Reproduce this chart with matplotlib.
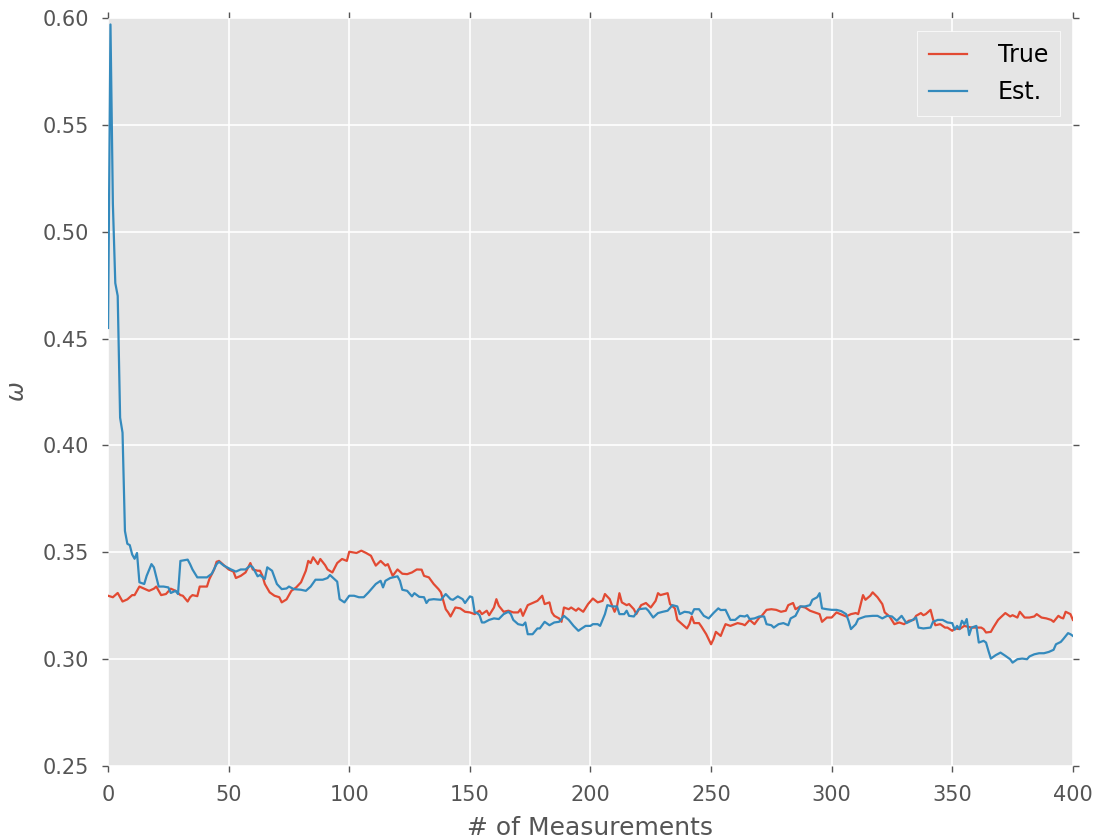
import matplotlib
matplotlib.use("Agg")
import matplotlib.pyplot as plt

true_x = [0, 2, 4, 6, 8, 10, 11, 13, 15, 17, 19, 20, 22, 24, 26, 28, 30, 31, 33, 34, 35, 37, 38,
          41, 42, 44, 45, 46, 48, 50, 52, 53, 55, 57, 59, 60, 62, 63, 64, 65, 67, 69, 71, 72, 74,
          76, 78, 80, 82, 83, 84, 85, 87, 88, 90, 91, 93, 95, 97, 99, 100, 103, 105, 107, 109, 110,
          111, 113, 115, 116, 118, 120, 122, 124, 126, 128, 130, 131, 133, 135, 137, 138, 140, 141,
          142, 144, 146, 148, 150, 152, 154, 155, 157, 158, 160, 161, 162, 164, 166, 168, 170, 171,
          172, 174, 176, 178, 180, 181, 183, 184, 185, 187, 188, 189, 191, 192, 194, 195, 197, 199,
          201, 203, 205, 206, 208, 209, 210, 211, 212, 213, 215, 216, 218, 219, 221, 223, 225, 227,
          228, 229, 232, 233, 235, 236, 238, 240, 241, 242, 243, 245, 246, 248, 250, 251, 252, 254,
          255, 256, 258, 261, 263, 264, 266, 268, 270, 271, 273, 275, 277, 279, 281, 282, 284, 285,
          287, 289, 291, 293, 295, 296, 298, 300, 302, 303, 306, 308, 310, 311, 313, 314, 316, 317,
          319, 321, 322, 324, 326, 328, 330, 332, 334, 335, 337, 338, 339, 341, 342, 343, 345, 347,
          348, 350, 351, 353, 355, 356, 358, 360, 362, 363, 364, 366, 367, 369, 370, 372, 374, 375,
          377, 378, 380, 382, 384, 385, 387, 389, 391, 392, 394, 395, 396, 397, 399, 400]
true_y = [0.3297, 0.329, 0.331, 0.327, 0.328, 0.330, 0.330, 0.334, 0.333, 0.332, 0.333, 0.334,
          0.330, 0.3305, 0.333, 0.332, 0.330, 0.3297, 0.327, 0.329, 0.330, 0.3295, 0.334, 0.334,
          0.3375, 0.342, 0.3456, 0.346, 0.344, 0.342, 0.341, 0.338, 0.339, 0.3406, 0.345, 0.342,
          0.3414, 0.3414, 0.339, 0.3352, 0.3313, 0.3297, 0.329, 0.3266, 0.328, 0.332, 0.3336, 0.336,
          0.3414, 0.346, 0.345, 0.3477, 0.3445, 0.3469, 0.344, 0.342, 0.3406, 0.345, 0.3469, 0.346,
          0.3503, 0.3497, 0.3508, 0.3497, 0.3484, 0.346, 0.3438, 0.346, 0.3438, 0.3445, 0.339, 0.342,
          0.340, 0.3398, 0.3406, 0.342, 0.3419, 0.339, 0.3383, 0.3352, 0.3328, 0.3313, 0.3234, 0.3219,
          0.320, 0.3242, 0.3238, 0.3222, 0.3219, 0.3211, 0.3227, 0.3211, 0.3227, 0.3206, 0.3242,
          0.3281, 0.325, 0.3222, 0.3227, 0.3219, 0.3219, 0.3234, 0.3203, 0.3253, 0.3263, 0.3273,
          0.3297, 0.3258, 0.3266, 0.3219, 0.3203, 0.3191, 0.3175, 0.3242, 0.3234, 0.3242, 0.3227,
          0.3238, 0.3222, 0.3258, 0.3284, 0.3266, 0.3273, 0.3305, 0.3281, 0.325, 0.3222, 0.3247,
          0.3309, 0.3266, 0.3253, 0.3258, 0.3234, 0.3211, 0.3253, 0.3263, 0.3242, 0.3273, 0.3309,
          0.330, 0.3309, 0.3258, 0.3238, 0.3184, 0.3164, 0.3144, 0.3164, 0.320, 0.3169, 0.3169,
          0.3153, 0.3117, 0.307, 0.3094, 0.3128, 0.3109, 0.3138, 0.3164, 0.3156, 0.3169, 0.3164,
          0.3159, 0.3184, 0.3164, 0.3195, 0.3203, 0.3231, 0.3234, 0.3231, 0.3222, 0.3227, 0.3253,
          0.3263, 0.3234, 0.3247, 0.3242, 0.3227, 0.3219, 0.3211, 0.3175, 0.3195, 0.3195, 0.3219,
          0.3214, 0.320, 0.3211, 0.3216, 0.3211, 0.330, 0.3278, 0.3297, 0.3313, 0.329, 0.3258, 0.3219,
          0.320, 0.3164, 0.3172, 0.3164, 0.318, 0.3184, 0.3203, 0.3216, 0.3206, 0.3211, 0.3231,
          0.3188, 0.3159, 0.3164, 0.3148, 0.3148, 0.3133, 0.3144, 0.3141, 0.3156, 0.3153, 0.3148,
          0.3148, 0.3148, 0.3141, 0.3125, 0.3128, 0.3148, 0.3184, 0.3195, 0.3216, 0.320, 0.3206,
          0.3195, 0.3222, 0.3195, 0.3195, 0.320, 0.3211, 0.3195, 0.3191, 0.3184, 0.3175, 0.3203,
          0.3195, 0.3191, 0.3222, 0.3211, 0.3184]

est_x = [0, 1, 2, 3, 4, 5, 6, 7, 8, 9, 10, 11, 12, 13, 15, 16, 18, 19, 21, 23, 25, 26, 28, 29, 30,
         33, 34, 35, 37, 41, 43, 45, 46, 48, 51, 53, 55, 57, 59, 60, 62, 63, 65, 66, 68, 70, 72, 74,
         75, 77, 80, 82, 84, 86, 89, 91, 92, 95, 96, 98, 100, 102, 104, 106, 108, 111, 113, 114, 115,
         117, 120, 121, 122, 124, 126, 127, 129, 131, 132, 133, 135, 138, 140, 142, 143, 145, 147,
         148, 150, 151, 152, 153, 154, 155, 156, 158, 160, 162, 164, 166, 167, 168, 170, 172, 173,
         174, 176, 178, 179, 181, 183, 185, 187, 189, 191, 193, 195, 196, 198, 200, 201, 203, 204,
         206, 207, 209, 211, 212, 214, 215, 216, 218, 220, 223, 224, 226, 228, 230, 232, 234, 236,
         237, 239, 241, 242, 243, 245, 247, 249, 251, 253, 254, 256, 258, 260, 262, 264, 265, 266,
         268, 270, 272, 273, 275, 276, 278, 280, 282, 283, 285, 287, 289, 291, 292, 294, 295, 296,
         298, 300, 302, 304, 306, 307, 308, 310, 311, 314, 317, 319, 321, 323, 325, 327, 329, 331,
         333, 335, 336, 338, 341, 342, 344, 346, 348, 350, 351, 352, 353, 354, 355, 356, 357, 358,
         360, 361, 363, 364, 365, 366, 368, 370, 372, 374, 375, 377, 379, 381, 382, 384, 386, 388,
         390, 392, 393, 395, 396, 398, 399, 400]
est_y = [0.455, 0.597, 0.513, 0.476, 0.470, 0.413, 0.406, 0.360, 0.354, 0.3534, 0.349, 0.347,
         0.3497, 0.336, 0.3352, 0.339, 0.3445, 0.343, 0.334, 0.334, 0.3336, 0.331, 0.332, 0.3305,
         0.346, 0.3466, 0.3445, 0.342, 0.3383, 0.3383, 0.340, 0.3445, 0.3456, 0.3438, 0.342, 0.341,
         0.342, 0.342, 0.3438, 0.343, 0.3388, 0.3394, 0.3375, 0.343, 0.3414, 0.3352, 0.3328, 0.3331,
         0.334, 0.3328, 0.3325, 0.332, 0.334, 0.3372, 0.3372, 0.338, 0.3394, 0.3363, 0.3281, 0.3266,
         0.3297, 0.3297, 0.329, 0.329, 0.3313, 0.3352, 0.3367, 0.3336, 0.3367, 0.338, 0.3388, 0.3367,
         0.3325, 0.332, 0.3294, 0.3309, 0.3292, 0.329, 0.3263, 0.3278, 0.3281, 0.3278, 0.3305,
         0.3281, 0.3278, 0.3294, 0.3281, 0.3263, 0.3294, 0.329, 0.3219, 0.3216, 0.3206, 0.3172,
         0.3172, 0.3184, 0.3191, 0.3188, 0.3211, 0.3222, 0.3211, 0.3184, 0.3164, 0.3159, 0.3172,
         0.3117, 0.3117, 0.3144, 0.3144, 0.3175, 0.3159, 0.3172, 0.3175, 0.3203, 0.3184, 0.3156,
         0.3133, 0.3141, 0.3156, 0.3156, 0.3164, 0.3164, 0.3156, 0.3211, 0.3253, 0.3247, 0.3247,
         0.3211, 0.3211, 0.3227, 0.3203, 0.320, 0.3234, 0.3238, 0.3227, 0.3195, 0.3216, 0.3222,
         0.3227, 0.3253, 0.3247, 0.3211, 0.3222, 0.3219, 0.3211, 0.3234, 0.3234, 0.3203, 0.3191,
         0.3216, 0.3238, 0.323, 0.3231, 0.3184, 0.3184, 0.3203, 0.320, 0.3206, 0.3188, 0.3191, 0.320,
         0.320, 0.3164, 0.3159, 0.3148, 0.3164, 0.3169, 0.3159, 0.3191, 0.3203, 0.3247, 0.3247,
         0.3253, 0.3278, 0.329, 0.3309, 0.3238, 0.3234, 0.3231, 0.3231, 0.3225, 0.3211, 0.318,
         0.3141, 0.3164, 0.3188, 0.320, 0.3203, 0.3203, 0.3191, 0.3203, 0.320, 0.318, 0.3203, 0.3169,
         0.318, 0.3195, 0.3148, 0.3144, 0.3148, 0.3175, 0.3184, 0.3184, 0.3172, 0.3169, 0.3138,
         0.3156, 0.3141, 0.318, 0.3164, 0.3188, 0.3113, 0.3148, 0.3156, 0.3078, 0.3086, 0.3078,
         0.3039, 0.3003, 0.3019, 0.3031, 0.3016, 0.300, 0.2984, 0.300, 0.3003, 0.300, 0.3013, 0.3023,
         0.3028, 0.3028, 0.3034, 0.3044, 0.307, 0.3081, 0.3094, 0.3122, 0.3117, 0.3109]

plt.style.use("ggplot")

fig = plt.figure(figsize=(10.97, 8.4), dpi=100)
ax = fig.add_axes([0.0985, 0.088, 0.8795, 0.8905])

ax.plot(true_x, true_y, color="#E24A33", lw=1.6, label="True")
ax.plot(est_x, est_y, color="#348ABD", lw=1.6, label="Est.")

ax.set_xlim(0, 400)
ax.set_ylim(0.25, 0.60)
ax.set_xticks(range(0, 401, 50))
ax.set_yticks([0.25, 0.30, 0.35, 0.40, 0.45, 0.50, 0.55, 0.60])
ax.set_yticklabels(["0.25", "0.30", "0.35", "0.40", "0.45", "0.50", "0.55", "0.60"])

ax.grid(True, color="white", lw=1.2)
ax.tick_params(axis="both", which="major", direction="out", length=4.5, width=1,
               colors="#555555", labelsize=15, pad=9, top=True, right=True)
for s in ax.spines.values():
    s.set_visible(False)

ax.set_xlabel("# of Measurements", fontsize=18, color="#555555", labelpad=8)
ax.set_ylabel(r"$\omega$", fontsize=17, color="#555555", labelpad=10)

leg = ax.legend(loc="upper right", fontsize=17, fancybox=False, framealpha=1,
                facecolor="#E5E5E5", edgecolor="white", handlelength=1.6,
                handletextpad=1.3, borderpad=0.5, labelspacing=0.55,
                borderaxespad=0.55)
for t in leg.get_texts():
    t.set_color("black")

fig.savefig("out.png", dpi=100)
